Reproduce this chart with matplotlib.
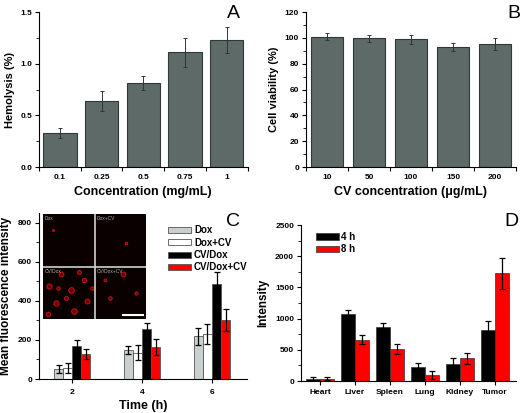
import numpy as np
import matplotlib
matplotlib.use('Agg')
import matplotlib.pyplot as plt
from matplotlib.ticker import MultipleLocator

plt.rcParams['font.family'] = ['Liberation Sans', 'DejaVu Sans']
plt.rcParams['font.weight'] = 'bold'

# Panel A - hemolysis
conc_a = ['0.1', '0.25', '0.5', '0.75', '1']
hemo = [0.33, 0.64, 0.815, 1.11, 1.23]
hemo_err = [0.05, 0.10, 0.065, 0.14, 0.125]

# Panel B - cell viability
conc_b = ['10', '50', '100', '150', '200']
viab = [101, 99.5, 99, 93, 95]
viab_err = [3, 2.5, 3.5, 3, 4.5]

# Panel C - mean fluorescence intensity
times = [2, 4, 6]
c_series = ['Dox', 'Dox+CV', 'CV/Dox', 'CV/Dox+CV']
c_vals = {
    'Dox': [52, 148, 218],
    'Dox+CV': [55, 135, 230],
    'CV/Dox': [170, 255, 485],
    'CV/Dox+CV': [128, 165, 302],
}
c_errs = {
    'Dox': [20, 20, 42],
    'Dox+CV': [25, 40, 50],
    'CV/Dox': [30, 30, 62],
    'CV/Dox+CV': [28, 40, 55],
}
c_colors = ['#c9d0cf', 'white', 'black', '#ff0000']

# Panel D - organ intensity
organs = ['Heart', 'Liver', 'Spleen', 'Lung', 'Kidney', 'Tumor']
d_4h = [30, 1080, 870, 230, 270, 820]
d_4h_err = [30, 55, 55, 65, 105, 140]
d_8h = [40, 660, 515, 100, 365, 1725]
d_8h_err = [20, 70, 75, 65, 85, 250]

# cell blobs for the inset micrograph (x, y in 0..2, size)
blobs_a = [(0.12, 0.62, 14), (0.35, 0.85, 12), (0.55, 0.55, 16), (0.8, 0.75, 10),
           (0.25, 0.3, 14), (0.6, 0.15, 16), (0.85, 0.35, 12), (0.45, 0.4, 8),
           (0.1, 0.1, 10), (0.7, 0.9, 8), (0.95, 0.6, 6), (0.3, 0.6, 6)]
blobs_b = [(1.55, 0.85, 12), (1.3, 0.4, 6), (1.8, 0.5, 5), (1.2, 0.75, 4),
           (1.62, 1.45, 3), (0.2, 1.7, 2)]

W, H = 522, 413
fig = plt.figure(figsize=(W / 100, H / 100), dpi=100)


def px_axes(left, bottom, right, top):
    return fig.add_axes([left / W, 1 - bottom / H, (right - left) / W, (bottom - top) / H])


def style(ax):
    for s in ['top', 'right']:
        ax.spines[s].set_visible(False)
    for s in ['left', 'bottom']:
        ax.spines[s].set_linewidth(0.8)
    ax.tick_params(which='both', labelsize=6)
    ax.tick_params(width=0.8, length=3, pad=2)
    ax.tick_params(axis='y', which='minor', width=0.6, length=2)
    for lab in ax.get_xticklabels(which='both') + ax.get_yticklabels():
        lab.set_fontweight('bold')


def category_ticks(ax, n, labels):
    # ticks between bars, labels under the bars
    ax.set_xticks(np.arange(n + 1) - 0.5)
    ax.set_xticklabels([])
    ax.set_xticks(np.arange(n), minor=True)
    ax.set_xticklabels(labels, minor=True)
    ax.tick_params(axis='x', which='minor', length=0, pad=5)


bar_col = '#5e6a68'
edge_col = '#2e3836'

# A
axA = px_axes(39, 167, 247.5, 12)
xa = np.arange(len(conc_a))
axA.bar(xa, hemo, width=0.8, color=bar_col, edgecolor=edge_col, linewidth=0.8)
axA.errorbar(xa, hemo, yerr=hemo_err, fmt='none', ecolor='#333333', elinewidth=0.7,
             capsize=1.5, capthick=0.7)
axA.set_xlim(-0.5, 4.5)
axA.set_ylim(0, 1.5)
category_ticks(axA, len(conc_a), conc_a)
axA.yaxis.set_major_locator(MultipleLocator(0.5))
axA.yaxis.set_minor_locator(MultipleLocator(0.25))
axA.set_xlabel('Concentration (mg/mL)', fontsize=9, fontweight='bold', labelpad=4)
axA.set_ylabel('Hemolysis (%)', fontsize=8, fontweight='bold', labelpad=4)
style(axA)
fig.text(233 / W, 1 - 14 / H, 'A', fontsize=14, fontweight='normal', ha='center', va='center')

# B
axB = px_axes(306, 167, 516, 12)
xb = np.arange(len(conc_b))
axB.bar(xb, viab, width=0.78, color=bar_col, edgecolor=edge_col, linewidth=0.8)
axB.errorbar(xb, viab, yerr=viab_err, fmt='none', ecolor='#333333', elinewidth=0.7,
             capsize=1.5, capthick=0.7)
axB.set_xlim(-0.42, 4.5)
axB.set_ylim(0, 120)
category_ticks(axB, len(conc_b), conc_b)
axB.yaxis.set_major_locator(MultipleLocator(20))
axB.yaxis.set_minor_locator(MultipleLocator(10))
axB.set_xlabel('CV concentration (\u03bcg/mL)', fontsize=9, fontweight='bold', labelpad=4)
axB.set_ylabel('Cell viability (%)', fontsize=8, fontweight='bold', labelpad=4)
style(axB)
fig.text(514 / W, 1 - 14 / H, 'B', fontsize=14, fontweight='normal', ha='center', va='center')

# C
axC = px_axes(39, 379, 247, 213)
bw = 0.26
offsets = [-1.5 * bw, -0.5 * bw, 0.5 * bw, 1.5 * bw]
for name, off, col in zip(c_series, offsets, c_colors):
    xs = np.array(times) + off
    axC.bar(xs, c_vals[name], width=bw, color=col, edgecolor='#555555', linewidth=0.6, label=name)
    axC.errorbar(xs, c_vals[name], yerr=c_errs[name], fmt='none', ecolor='black',
                 elinewidth=0.9, capsize=2.2, capthick=0.9)
axC.set_xlim(1.05, 7.0)
axC.set_ylim(0, 850)
axC.set_xticks(times)
axC.yaxis.set_major_locator(MultipleLocator(200))
axC.yaxis.set_minor_locator(MultipleLocator(100))
axC.set_xlabel('Time (h)', fontsize=9, fontweight='bold', labelpad=3)
axC.set_ylabel('Mean fluorescence intensity', fontsize=8.5, fontweight='bold', labelpad=4)
style(axC)
axC.tick_params(axis='x', pad=4)
axC.legend(loc='upper left', bbox_to_anchor=(0.6, 0.95), frameon=False,
           prop={'size': 7, 'weight': 'bold'}, handlelength=2.4, handleheight=0.6,
           handletextpad=0.3, labelspacing=0.25, borderaxespad=0)
fig.text(233 / W, 1 - 222 / H, 'C', fontsize=14, fontweight='normal', ha='center', va='center')

# inset micrograph
axI = px_axes(43, 319, 146, 214)
axI.set_facecolor('#0a0000')
axI.set_xlim(0, 2)
axI.set_ylim(0, 2)
axI.set_xticks([])
axI.set_yticks([])
for s in axI.spines.values():
    s.set_visible(False)
for (bx, by, bs) in blobs_a + blobs_b:
    axI.scatter(bx, by, s=bs, facecolor='#6a0000', edgecolor='#c81010', linewidth=0.7)
axI.axvline(1, color='#d0d0d0', lw=1.2)
axI.axhline(1, color='#d0d0d0', lw=1.2)
for (tx, ty, t) in [(0.04, 1.96, 'Dox'), (1.04, 1.96, 'Dox+CV'),
                    (0.04, 0.96, 'CV/Dox'), (1.04, 0.96, 'CV/Dox+CV')]:
    axI.text(tx, ty, t, color='#aaaaaa', fontsize=3.5, fontweight='normal', ha='left', va='top')
axI.plot([1.55, 1.95], [0.07, 0.07], color='white', lw=1.5)

# D
axD = px_axes(301, 381, 516, 225)
xd = np.arange(len(organs))
dw = 0.4
axD.bar(xd - dw / 2, d_4h, width=dw, color='black', edgecolor='#333333', linewidth=0.5, label='4 h')
axD.bar(xd + dw / 2, d_8h, width=dw, color='#ff0000', edgecolor='#333333', linewidth=0.5, label='8 h')
axD.errorbar(xd - dw / 2, d_4h, yerr=d_4h_err, fmt='none', ecolor='black', elinewidth=0.9,
             capsize=2.2, capthick=0.9)
axD.errorbar(xd + dw / 2, d_8h, yerr=d_8h_err, fmt='none', ecolor='black', elinewidth=0.9,
             capsize=2.2, capthick=0.9)
axD.set_xlim(-0.54, 5.6)
axD.set_ylim(0, 2500)
axD.set_xticks(xd)
axD.set_xticklabels(organs)
axD.yaxis.set_major_locator(MultipleLocator(500))
axD.yaxis.set_minor_locator(MultipleLocator(250))
axD.set_ylabel('Intensity', fontsize=8.5, fontweight='bold', labelpad=4)
style(axD)
axD.tick_params(axis='x', pad=3)
axD.legend(loc='upper left', bbox_to_anchor=(0.05, 0.98), frameon=False,
           prop={'size': 7, 'weight': 'bold'}, handlelength=2.4, handleheight=0.6,
           handletextpad=0.2, labelspacing=0.25, borderaxespad=0)
fig.text(511 / W, 1 - 222 / H, 'D', fontsize=14, fontweight='normal', ha='center', va='center')

fig.savefig('out.png', dpi=100)
